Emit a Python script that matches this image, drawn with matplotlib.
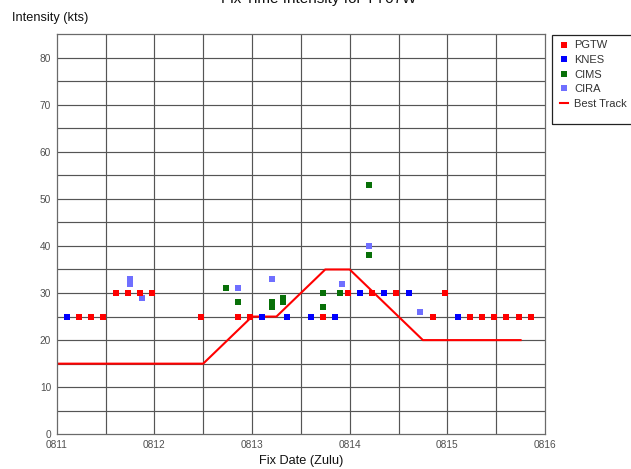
import matplotlib
matplotlib.use("Agg")
import matplotlib.pyplot as plt
from matplotlib.lines import Line2D
from matplotlib.patches import Rectangle

plt.rcParams['font.family'] = ['Liberation Sans', 'DejaVu Sans']

# Fix times as DDHHMM (August), intensities in knots
pgtw_time = ["110530", "110830", "111130", "111430", "111730", "112030", "112330",
             "121130", "122030", "122330", "131730", "132330", "140530", "141130",
             "142030", "142330", "150530", "150830", "151130", "151430", "151730",
             "152030"]
pgtw_kts = [25, 25, 25, 30, 30, 30, 30, 25, 25, 25, 25, 30, 30, 30, 25, 30,
            25, 25, 25, 25, 25, 25]

knes_time = ["110230", "130230", "130830", "131430", "132030", "140230",
             "140830", "141430", "150230"]
knes_kts = [25, 25, 25, 25, 25, 30, 30, 30, 25]

cims_time = ["121730", "122030", "130500", "130500", "130730", "130730",
             "131730", "131730", "132130", "140445", "140445"]
cims_kts = [31, 28, 28, 27, 29, 28, 30, 27, 30, 53, 38]

cira_time = ["111800", "111800", "112100", "122030", "130500", "132200",
             "140445", "141715"]
cira_kts = [33, 32, 29, 31, 33, 32, 40, 26]

best_time = ["110000", "110600", "111200", "111800", "120000", "120600",
             "121200", "121800", "130000", "130600", "131200", "131800",
             "140000", "140600", "141200", "141800", "150000", "150600",
             "151200", "151800"]
best_kts = [15, 15, 15, 15, 15, 15, 15, 20, 25, 25, 30, 35, 35, 30, 25, 20,
            20, 20, 20, 20]

day_labels = ["0811", "0812", "0813", "0814", "0815", "0816"]


def to_days(stamps):
    """DDHHMM -> days since 0811 00Z."""
    out = []
    for s in stamps:
        d, h, m = int(s[:2]), int(s[2:4]), int(s[4:6])
        out.append((d - 11) + (h + m / 60.0) / 24.0)
    return out


W, H = 631, 469
fig = plt.figure(figsize=(W / 100, H / 100), dpi=100)
ax = fig.add_axes([56.7 / W, 1 - 434.3 / H, (545 - 56.7) / W, (434.3 - 34) / H])

grid_c = '#555555'
for v in range(5, 85, 5):
    ax.axhline(v, color=grid_c, lw=0.85, zorder=1)
for i in range(1, 10):
    ax.axvline(i * 0.5, color=grid_c, lw=0.85, zorder=1)

ax.plot(to_days(best_time), best_kts, color='#ff0000', lw=1.5, zorder=2,
        solid_joinstyle='miter')

ms = 3.7
ax.plot(to_days(knes_time), knes_kts, 's', color='#0000ff', ms=ms, mew=0, zorder=3)
ax.plot(to_days(cira_time), cira_kts, 's', color='#6f6fff', ms=ms, mew=0, zorder=3)
ax.plot(to_days(cims_time), cims_kts, 's', color='#087008', ms=ms, mew=0, zorder=3)
ax.plot(to_days(pgtw_time), pgtw_kts, 's', color='#ff0000', ms=ms, mew=0, zorder=4)

ax.set_xlim(0, 5)
ax.set_ylim(0, 85)
ax.set_xticks(range(6))
ax.set_xticklabels(day_labels)
ax.set_yticks(range(0, 90, 10))
ax.tick_params(length=0, labelsize=7.3, labelcolor='#505050', pad=4)
for side in ['left', 'bottom', 'right', 'top']:
    ax.spines[side].set_color('#6a6a6a')
    ax.spines[side].set_linewidth(0.9)

fig.text(12 / W, 1 - 18 / H, "Intensity (kts)", fontsize=9.2, color='#111111',
         ha='left', va='center')
fig.text(301 / W, 1 - 461 / H, "Fix Date (Zulu)", fontsize=9.2, color='#111111',
         ha='center', va='center')
fig.text(319 / W, 1 - 3.5 / H, "Fix Time Intensity for TY07W", fontsize=11,
         color='#111111', ha='center', va='baseline')

# Legend box, running off the right edge
fig.patches.append(Rectangle((551.7 / W, 1 - 124.3 / H), 100 / W, (124.3 - 35) / H,
                             transform=fig.transFigure, fill=False,
                             edgecolor='#222222', lw=0.9))
lms = 4.2
handles = [
    Line2D([], [], ls='none', marker='s', color='#ff0000', ms=lms, mew=0),
    Line2D([], [], ls='none', marker='s', color='#0000ff', ms=lms, mew=0),
    Line2D([], [], ls='none', marker='s', color='#087008', ms=lms, mew=0),
    Line2D([], [], ls='none', marker='s', color='#6f6fff', ms=lms, mew=0),
    Line2D([], [], color='#ff0000', lw=1.5),
]
labels = ["PGTW", "KNES", "CIMS", "CIRA", "Best Track"]
leg = fig.legend(handles, labels, loc='upper left',
                 bbox_to_anchor=(560 / W, 1 - 40.5 / H), frameon=False,
                 fontsize=8, handlelength=0.75, handletextpad=0.5,
                 labelspacing=0.41, borderpad=0, borderaxespad=0)
for t in leg.get_texts():
    t.set_color('#333333')

fig.savefig("out.png", dpi=100)
